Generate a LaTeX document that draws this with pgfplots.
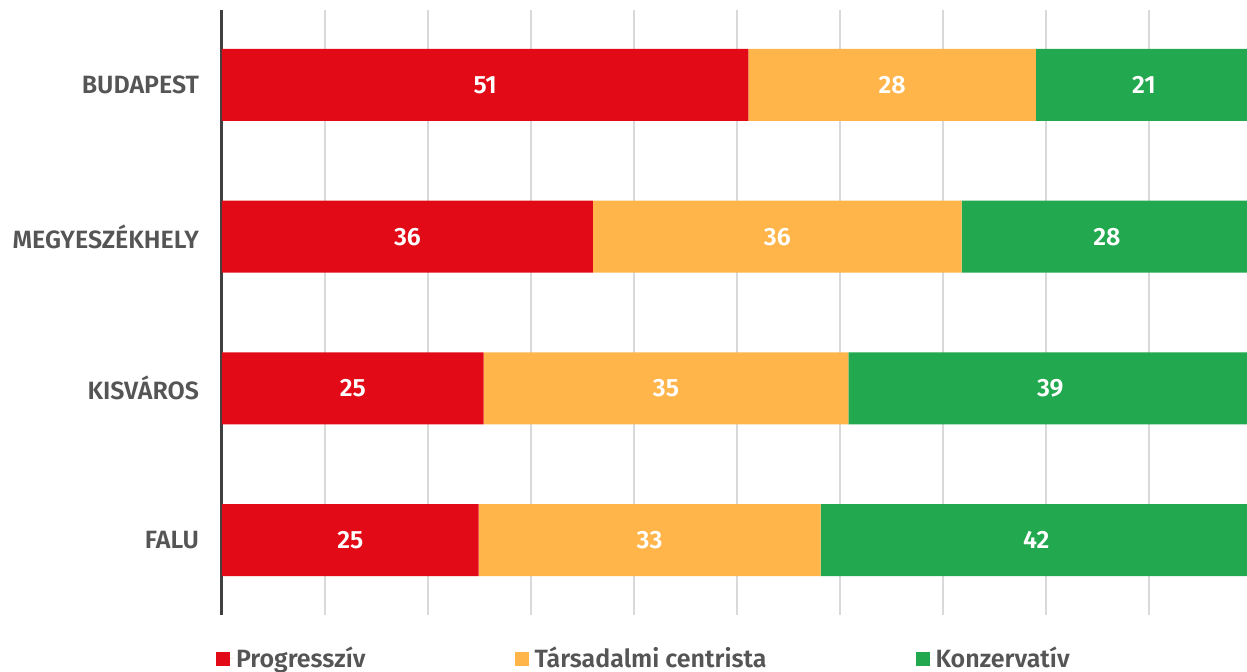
\documentclass[border=0pt]{standalone}
\usepackage{fontspec}
\setmainfont{Fira Sans}
\newfontfamily\fsb{Fira Sans SemiBold}
\usepackage{pgfplots}
\usepackage{pgfplotstable}
\pgfplotsset{compat=1.18}
\definecolor{cred}{HTML}{E20A16}
\definecolor{corange}{HTML}{FFB54A}
\definecolor{cgreen}{HTML}{22A84F}
\definecolor{ctext}{HTML}{555555}
\definecolor{cgrid}{HTML}{D9D9D9}
\definecolor{caxis}{HTML}{404040}

\pgfplotstableread{
y v
3 51.1
2 36.0
1 25.4
0 24.9
}\progdata
\pgfplotstableread{
y v
3 27.9
2 35.8
1 35.4
0 33.2
}\centdata
\pgfplotstableread{
y v
3 21.0
2 28.2
1 39.2
0 41.9
}\konzdata

\begin{document}
\begin{tikzpicture}
\useasboundingbox (0,0) rectangle (623.5pt,336pt);
\begin{axis}[
  at={(111pt,28.5pt)}, anchor=south west,
  scale only axis, width=512.5pt, height=302.5pt,
  clip=false,
  xbar stacked, bar width=36pt,
  xmin=0, xmax=99.5,
  ymin=-0.494, ymax=3.494,
  axis y line*=left, axis x line*=bottom,
  x axis line style={draw=none},
  y axis line style={-, draw=caxis, line width=1.5pt},
  xtick={0,10,...,90}, xticklabels={},
  xmajorgrids, grid style={cgrid, line width=1pt},
  major tick length=0pt,
  ytick={0,1,2,3},
  yticklabels={FALU,KISVÁROS,MEGYESZÉKHELY,BUDAPEST},
  yticklabel style={font=\fsb\fontsize{12.5}{14}\selectfont, text=ctext, xshift=-8pt},
  /pgf/number format/assume math mode=true,
  nodes near coords={\pgfmathprintnumber[fixed,precision=0,assume math mode=true]{\pgfplotspointmeta}},
  nodes near coords align={center},
  every node near coord/.append style={text=white, font=\fsb\fontsize{12.5}{14}\selectfont},
  legend columns=3,
  legend style={at={(-0.00585,-0.0727)}, anchor=west, draw=none, fill=none, inner sep=0pt, outer sep=0pt,
    font=\fsb\fontsize{12.5}{14}\selectfont, text=ctext,
    nodes={inner sep=1.5pt},
    /tikz/every even column/.append style={column sep=73pt}},
]
\addplot[fill=cred, draw=none, point meta=explicit,
  legend image code/.code={\path (0pt,0pt) -- (8.5pt,0pt); \fill[cred] (0pt,-3.5pt) rectangle (7pt,3.5pt);}]
  table[x=v, y=y, meta=v] {\progdata};
\addlegendentry{Progresszív}
\addplot[fill=corange, draw=none, point meta=explicit,
  legend image code/.code={\path (0pt,0pt) -- (8.5pt,0pt); \fill[corange] (0pt,-3.5pt) rectangle (7pt,3.5pt);}]
  table[x=v, y=y, meta=v] {\centdata};
\addlegendentry{Társadalmi centrista}
\addplot[fill=cgreen, draw=none, point meta=explicit,
  legend image code/.code={\path (0pt,0pt) -- (8.5pt,0pt); \fill[cgreen] (0pt,-3.5pt) rectangle (7pt,3.5pt);}]
  table[x=v, y=y, meta=v] {\konzdata};
\addlegendentry{Konzervatív}
\end{axis}
\end{tikzpicture}
\end{document}
